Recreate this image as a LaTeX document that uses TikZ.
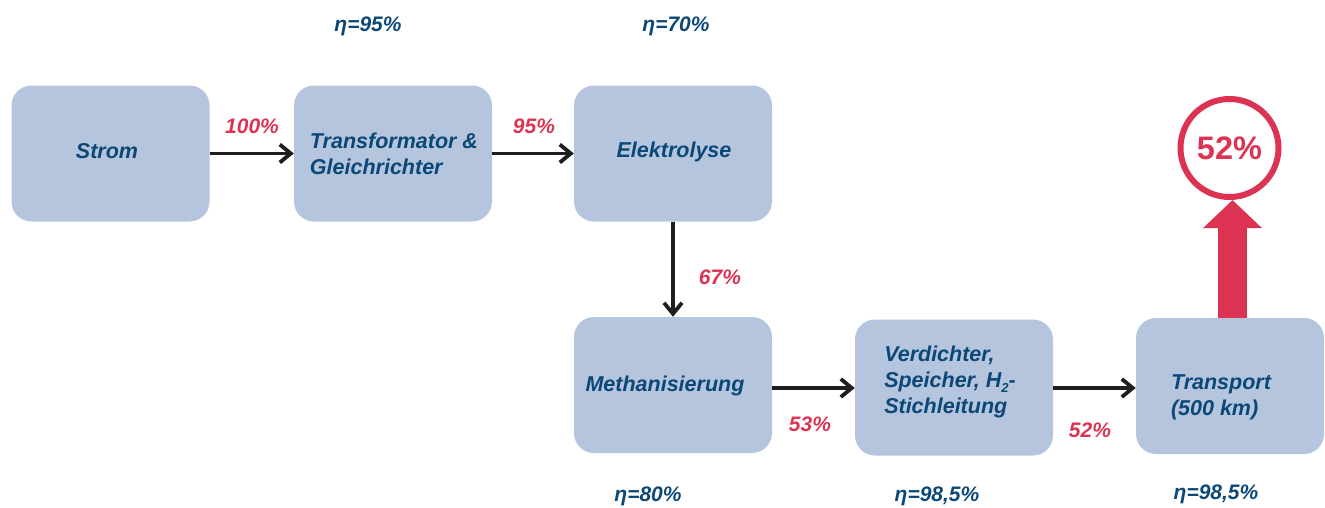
\documentclass[tikz,border=0pt]{standalone}
\usepackage{fontspec}
\setmainfont{Liberation Sans}
\usetikzlibrary{arrows.meta,calc}
\definecolor{boxfill}{HTML}{B5C5DD}
\definecolor{txtblue}{HTML}{0B4877}
\definecolor{accred}{HTML}{DC3353}
\definecolor{arrblack}{HTML}{1E1E1E}
\tikzset{
  stage/.style={fill=boxfill, draw=none, rounded corners=20pt, minimum width=198pt, minimum height=136pt, inner sep=0pt},
  stagetxt/.style={text=txtblue, font=\fontsize{21.5}{26}\selectfont\bfseries\itshape, align=left, inner sep=0pt},
  pct/.style={text=accred, font=\fontsize{21}{25}\selectfont\bfseries\itshape, inner sep=0pt},
  eta/.style={text=txtblue, font=\fontsize{21}{25}\selectfont\bfseries\itshape, inner sep=0pt},
  flow/.style={draw=arrblack, line width=3.2pt, -{Straight Barb[length=11pt,width=18pt,line width=3.8pt]}},
}
\newcommand{\subtwo}{\raisebox{-5pt}{\fontsize{13}{13}\selectfont 2}}
\begin{document}
\begin{tikzpicture}[x=1pt,y=-1pt]
\useasboundingbox (0,0) rectangle (1325,507);
% boxes
\node[stage] (strom) at (110.5,153.5) {};
\node[stage] (trafo) at (393,153.5) {};
\node[stage] (elek) at (673,153.5) {};
\node[stage] (meth) at (673,385) {};
\node[stage] (verd) at (954,387.5) {};
\node[stage, minimum width=188pt] (trans) at (1230,386) {};
% texts
\node[stagetxt] (tstrom) at (107,151) {Strom};
\node[stagetxt] (ttrafo) at (394,154) {Transformator \&\\Gleichrichter};
\node[stagetxt] (telek) at (674,152) {Elektrolyse};
\node[stagetxt] (tmeth) at (665,386) {Methanisierung};
\node[stagetxt] (tverd) at (950,382) {Verdichter,\\Speicher, H\subtwo-\\Stichleitung};
\node[stagetxt] (ttrans) at (1221,397) {Transport\\(500 km)};
% connectors
\draw[flow] (strom.east) -- (trafo.west);
\draw[flow] (trafo.east) -- (elek.west);
\draw[flow] (elek.south) -- (meth.north);
\draw[flow] (meth.east |- 0,388) -- (verd.west |- 0,388);
\draw[flow] (verd.east |- 0,388) -- (trans.west |- 0,388);
% percentages
\node[pct] (p100) at (252,126) {100\%};
\node[pct] (p95) at (534,126) {95\%};
\node[pct] (p67) at (720,277) {67\%};
\node[pct] (p53) at (810,424) {53\%};
\node[pct] (p52) at (1090,430) {52\%};
% efficiencies
\node[eta] (e1) at (368,26) {η=95\%};
\node[eta] (e2) at (676,26) {η=70\%};
\node[eta] (e3) at (648,496) {η=80\%};
\node[eta] (e4) at (937,496) {η=98,5\%};
\node[eta] (e5) at (1216,494) {η=98,5\%};
% result
\node[circle, draw=accred, line width=6pt, fill=white, minimum size=98pt, inner sep=0pt, text=accred, font=\fontsize{32.5}{36}\selectfont\bfseries] (res) at (1229.5,148) {52\%};
\draw[draw=accred, line width=29pt, -{Triangle[length=28pt,width=57pt]}] (trans.north -| 1232.5,0) -- (1232.5,0 |- res.south);
\end{tikzpicture}
\end{document}
